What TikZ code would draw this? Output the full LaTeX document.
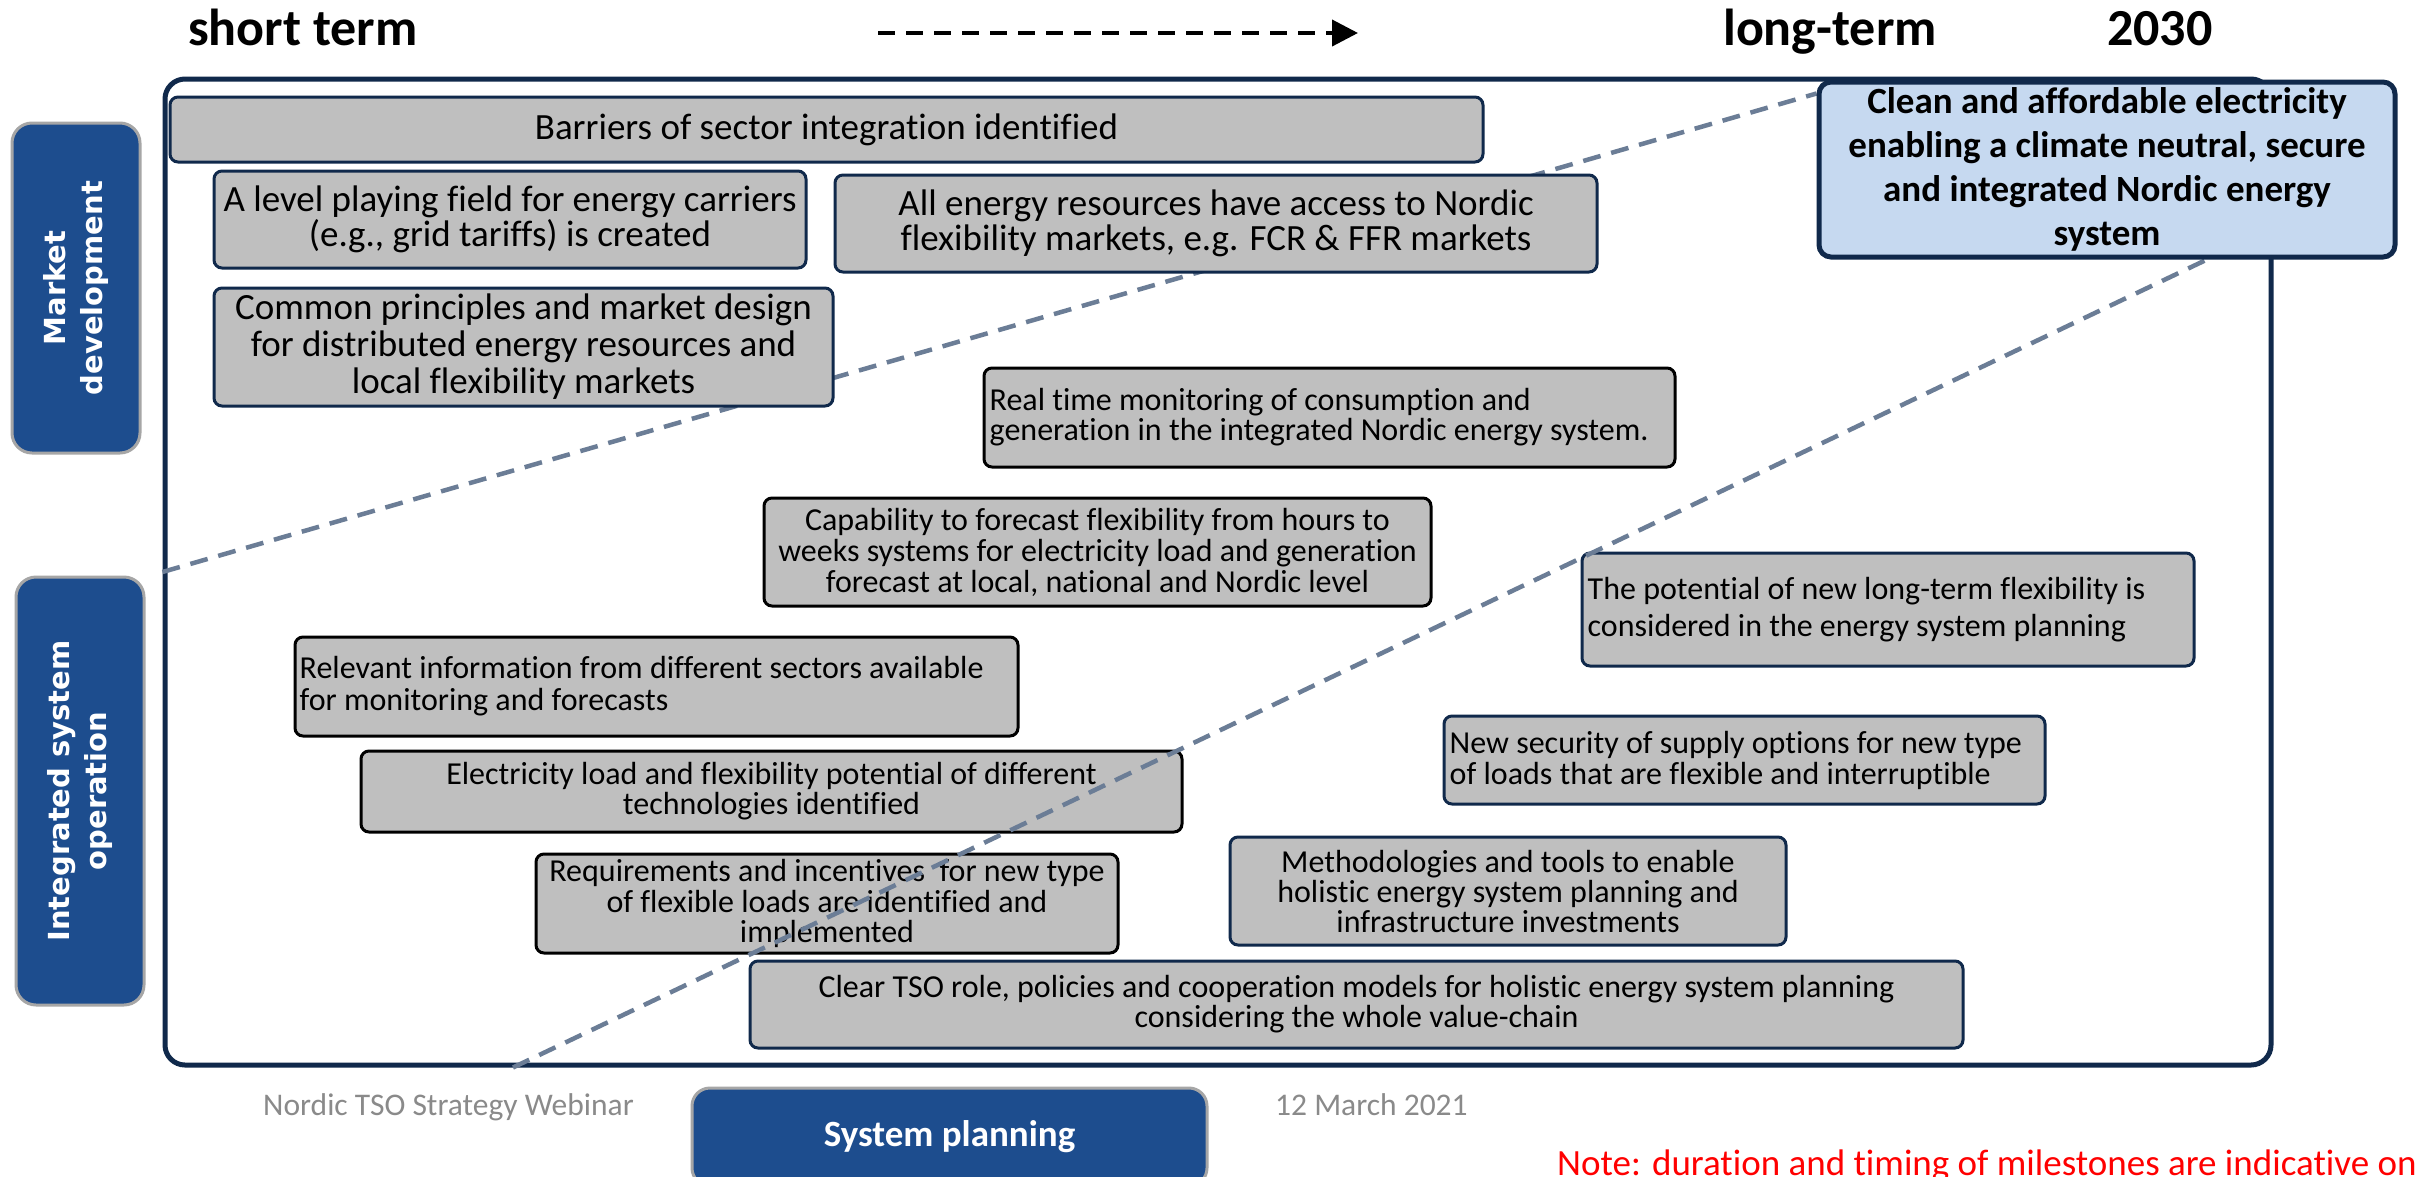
\documentclass[tikz,border=0pt]{standalone}
\usepackage{fontspec}
\setmainfont{Carlito}[Ligatures=NoCommon]
\newfontfamily\sidefont{DejaVu Sans}
\usetikzlibrary{arrows.meta}
\definecolor{navy}{HTML}{10294B}
\definecolor{sideblue}{HTML}{1D4D8E}
\definecolor{sidegrey}{HTML}{A6A6A6}
\definecolor{boxgrey}{HTML}{BFBFBF}
\definecolor{goalblue}{HTML}{C6D9F0}
\definecolor{dashgrey}{HTML}{6B7D96}
\definecolor{footgrey}{HTML}{8A8A8A}
\pgfdeclarelayer{lzero}
\pgfdeclarelayer{lone}
\pgfdeclarelayer{ltwo}
\pgfdeclarelayer{lthree}
\pgfsetlayers{lzero,lone,ltwo,lthree,main}
\begin{document}
\begin{tikzpicture}[x=1pt,y=-1pt,
  fs/.style 2 args={font=\fontsize{#1}{#2}\selectfont},
  box/.style={draw=navy, line width=3pt, fill=boxgrey, rounded corners=8pt, inner sep=0pt, align=center},
  boxk/.style={box, draw=black},
  txt/.style={inner sep=0pt, align=left, anchor=west},
  side/.style={fill=sideblue, draw=sidegrey, line width=3pt, rounded corners=20pt, text=white, align=center, inner sep=0pt, font=\sidefont\bfseries\fontsize{29}{37}\selectfont},
  dline/.style={draw=dashgrey, line width=4.5pt, dash pattern=on 18pt off 11pt},
  hdr/.style={inner sep=0pt, anchor=base west, font=\bfseries\fontsize{52}{60}\selectfont},
  foot/.style={inner sep=0pt, anchor=base west, text=footgrey, font=\fontsize{31.5}{36}\selectfont}]
\useasboundingbox (0,0) rectangle (2415,1176);

% frame
\begin{pgfonlayer}{lzero}
\fill[white] (0,0) rectangle (2415,1176);
\node[draw=navy, line width=5pt, rounded corners=20pt, minimum width=2106pt, minimum height=986pt, inner sep=0pt] (frame) at (1218,572) {};
\end{pgfonlayer}

% goal
\node[draw=navy, line width=5pt, fill=goalblue, rounded corners=12pt, minimum width=576pt, minimum height=175pt, inner sep=0pt, align=center, font=\bfseries\fontsize{37}{44}\selectfont] (goal) at (2107,169.5)
 {Clean and affordable electricity\\enabling a climate neutral, secure\\and integrated Nordic energy\\system};

% milestone boxes
\begin{pgfonlayer}{ltwo}
\node[box, fs={37}{36}, minimum width=1313pt, minimum height=65pt] (b1) at (826.5,129.5) {Barriers of sector integration identified};
\node[box, fs={37}{35}, minimum width=592pt, minimum height=97pt] (b2) at (510,219.5) {A level playing field for energy carriers\\(e.g., grid tariffs) is created};
\node[box, fs={37}{35}, minimum width=762pt, minimum height=97pt] (b3) at (1216,223.5) {All energy resources have access to Nordic\\flexibility markets, e.g. FCR \& FFR markets};
\node[box, fs={37}{37}, minimum width=619pt, minimum height=118pt] (b4) at (523.5,347) {Common principles and market design\\for distributed energy resources and\\local flexibility markets};
\node[boxk, minimum width=691pt, minimum height=99pt] (b5) at (1329.5,417.5) {};
\node[txt, fs={32}{30}] (t5) at ([xshift=7pt]b5.west) {Real time monitoring of consumption and\\generation in the integrated Nordic energy system.};
\node[boxk, fs={32}{31}, minimum width=667pt, minimum height=108pt] (b6) at (1097.5,552) {Capability to forecast flexibility from hours to\\weeks systems for electricity load and generation\\forecast at local, national and Nordic level};
\node[box, minimum width=612pt, minimum height=113pt] (b7) at (1888,609.5) {};
\node[txt, fs={32}{37}] (t7) at ([xshift=7pt]b7.west) {The potential of new long-term flexibility is\\considered in the energy system planning};
\node[boxk, minimum width=723pt, minimum height=99pt] (b8) at (656.5,686.5) {};
\node[txt, fs={32}{32}] (t8) at ([xshift=6pt]b8.west) {Relevant information from different sectors available\\for monitoring and forecasts};
\node[boxk, fs={32}{30}, minimum width=821pt, minimum height=81pt] (b9) at (771.5,791.5) {Electricity load and flexibility potential of different\\technologies identified};
\node[box, minimum width=601pt, minimum height=88pt] (b10) at (1744.5,760) {};
\node[txt, fs={32}{31}] (t10) at ([xshift=7pt]b10.west) {New security of supply options for new type\\of loads that are flexible and interruptible};
\node[boxk, fs={32}{30.5}, minimum width=582pt, minimum height=99pt] (b11) at (827,903.5) {Requirements and incentives\ \ for new type\\of flexible loads are identified and\\implemented};
\node[box, fs={32}{30}, minimum width=556pt, minimum height=108pt] (b12) at (1508,891) {Methodologies and tools to enable\\holistic energy system planning and\\infrastructure investments};
\node[box, fs={32}{30}, minimum width=1213pt, minimum height=87pt] (b13) at (1356.5,1004.5) {Clear TSO role, policies and cooperation models for holistic energy system planning\\considering the whole value-chain};
\end{pgfonlayer}

% dashed guide lines
\begin{pgfonlayer}{lone}
\draw[dline] (frame.west) -- ([yshift=-14pt]goal.north west);
\end{pgfonlayer}
\begin{pgfonlayer}{lthree}
\draw[dline] ([xshift=-705pt]frame.south) -- ([xshift=100pt]goal.south);
\end{pgfonlayer}

% side labels
\node[side, rotate=90, minimum width=330pt, minimum height=128pt] (mkt) at (76,288) {Market\\development};
\node[side, rotate=90, minimum width=428pt, minimum height=128pt] (iso) at (80,791) {Integrated system\\operation};
\node[fill=sideblue, draw=sidegrey, line width=3pt, rounded corners=18pt, minimum width=515pt, minimum height=98pt, inner sep=0pt, text=white, font=\bfseries\fontsize{37}{44}\selectfont] (sp) at (949.5,1137) {System planning};

% header
\node[hdr] (st) at (188,45) {short term};
\node[hdr] (lt) at (1723,45) {long-term};
\node[hdr] (yr) at (2107,45) {2030};
\coordinate (as) at (878,33);
\coordinate (ae) at (1358,33);
\draw[black, line width=4pt, dash pattern=on 17pt off 11pt, -{Triangle[length=26pt,width=26pt]}] (as) -- (ae);

% footer
\node[foot] (f1) at (263,1115) {Nordic TSO Strategy Webinar};
\node[foot] (f2) at (1275,1115) {12 March 2021};
\node[inner sep=0pt, anchor=base west, text=red, font=\fontsize{37}{44}\selectfont] (note) at (1557,1175) {Note: duration and timing of milestones are indicative only};
\end{tikzpicture}
\end{document}
